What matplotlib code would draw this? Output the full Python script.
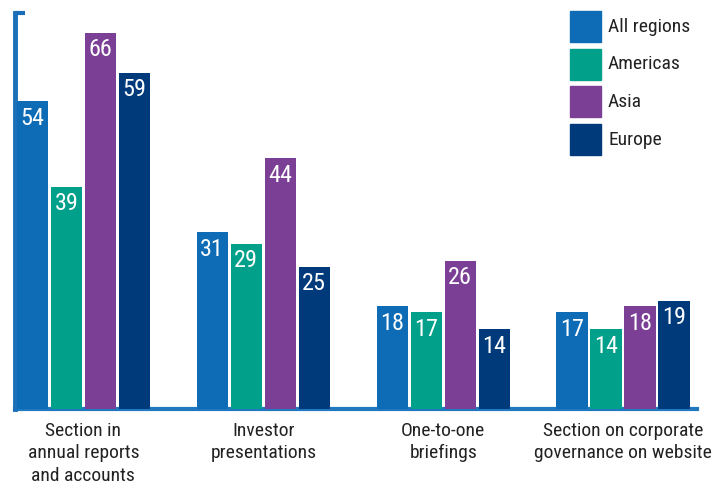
import matplotlib
matplotlib.use('Agg')
import matplotlib.pyplot as plt
from matplotlib import font_manager
from matplotlib.patches import Rectangle
import numpy as np

# prefer a narrow face when one is installed
installed = {f.name for f in font_manager.fontManager.ttflist}
family = 'Liberation Sans'
for cand in ['Liberation Sans Narrow', 'Roboto Condensed', 'Open Sans Condensed']:
    if cand in installed:
        family = cand
        break
plt.rcParams['font.family'] = [family, 'DejaVu Sans']

# share of companies using each channel, by region (%)
categories = ['Section in\nannual reports\nand accounts', 'Investor\npresentations',
              'One-to-one\nbriefings', 'Section on corporate\ngovernance on website']
regions = ['All regions', 'Americas', 'Asia', 'Europe']
all_regions = [54, 31, 18, 17]
americas = [39, 29, 17, 14]
asia = [66, 44, 26, 18]
europe = [59, 25, 14, 19]

colors = ['#0e6bb5', '#00a08a', '#7b3f95', '#003a7a']
series = [all_regions, americas, asia, europe]

W, H = 713, 491
fig = plt.figure(figsize=(W / 100, H / 100), dpi=100)
ax = fig.add_axes([15 / W, 1 - 409 / H, 682 / W, 396 / H])

x = np.arange(len(categories))
pitch = 0.189
width = 0.175
for i, (vals, c) in enumerate(zip(series, colors)):
    pos = x + (i - 1.5) * pitch
    bars = ax.bar(pos, vals, width, color=c, zorder=3)
    for b, v in zip(bars, vals):
        ax.annotate(str(v), (b.get_x() + b.get_width() / 2, v), xytext=(0, -4),
                    textcoords='offset points', ha='center', va='top',
                    color='white', fontsize=17.5, zorder=4)

ax.set_xlim(-0.38, 3.41)
ax.set_ylim(0, 69.5)

for s in ['top', 'right']:
    ax.spines[s].set_visible(False)
ax.spines['left'].set_color('#1a6fb8')
ax.spines['left'].set_linewidth(3.5)
ax.spines['bottom'].set_color('#1f78c0')
ax.spines['bottom'].set_linewidth(3)
ax.spines['bottom'].set_zorder(1)

# small bracket tick at the top of the left axis
ax.set_yticks([69.5])
ax.set_yticklabels([''])
ax.tick_params(axis='y', direction='in', length=7, width=3, color='#1a6fb8')

ax.set_xticks(x)
ax.set_xticklabels(categories, fontsize=14, color='#222222', linespacing=1.33)
ax.tick_params(axis='x', length=0, pad=9)

# legend: colour squares with labels, top right
for i, (name, c) in enumerate(zip(regions, colors)):
    top = 11 + i * 37.7
    fig.patches.append(Rectangle((570 / W, 1 - (top + 31) / H), 31 / W, 31 / H,
                                 transform=fig.transFigure, color=c))
    fig.text(608 / W, 1 - (top + 15.5) / H, name, fontsize=14, color='#222222',
             ha='left', va='center')

fig.savefig('out.png', dpi=100)
